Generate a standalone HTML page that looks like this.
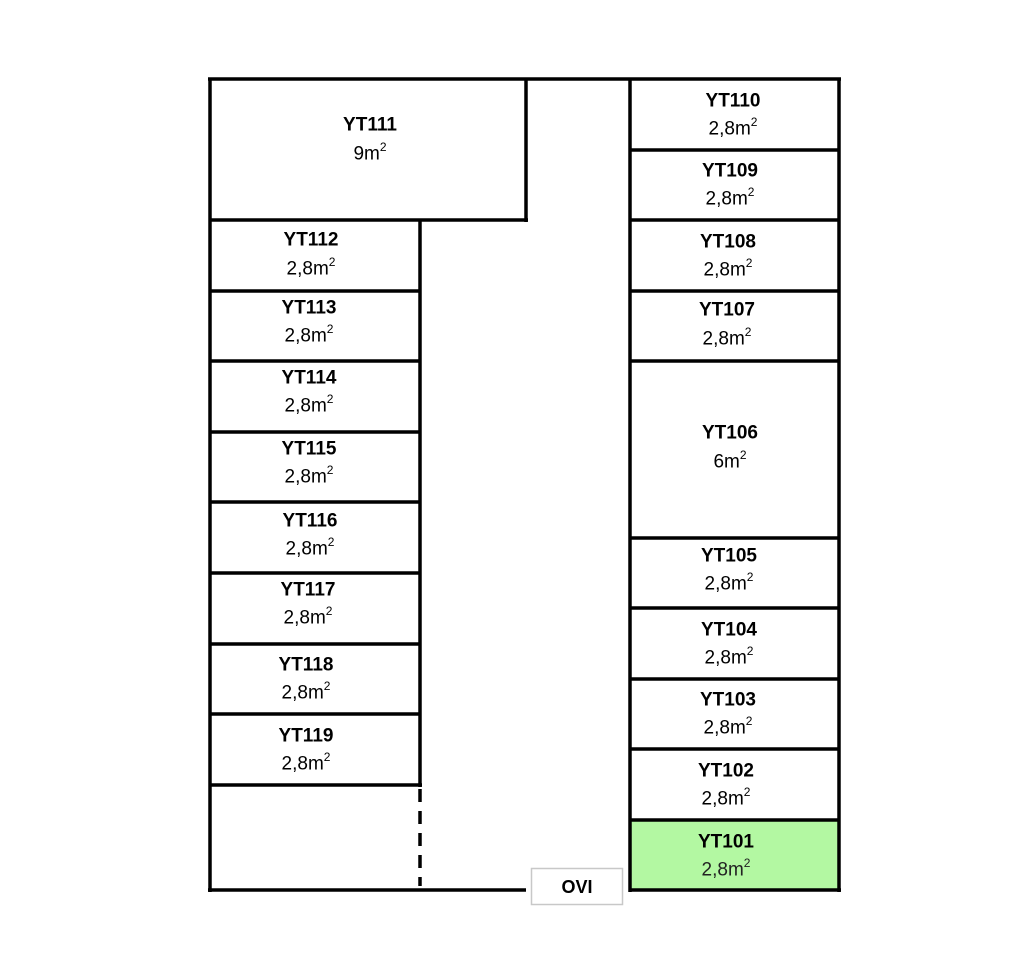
<!DOCTYPE html>
<html><head><meta charset="utf-8"><style>
html,body{margin:0;padding:0;background:#fff;}
svg{display:block;}
text{font-family:"Liberation Sans",sans-serif;fill:#000;}
.l{font-weight:bold;font-size:19px;}
.a{font-size:19px;}
</style></head><body>
<svg width="1025" height="963" viewBox="0 0 1025 963" xmlns="http://www.w3.org/2000/svg">
<rect x="630" y="820" width="209" height="70" fill="#b3f8a2"/>
<g stroke="#000" stroke-width="3.5" fill="none">
<line x1="208" y1="79" x2="841" y2="79"/>
<line x1="210" y1="79" x2="210" y2="892"/>
<line x1="208" y1="890" x2="526" y2="890"/>
<line x1="526" y1="79" x2="526" y2="222"/>
<line x1="210" y1="220" x2="528" y2="220"/>
<line x1="420" y1="220" x2="420" y2="787"/>
<line x1="210" y1="291" x2="420" y2="291"/>
<line x1="210" y1="361" x2="420" y2="361"/>
<line x1="210" y1="432" x2="420" y2="432"/>
<line x1="210" y1="502" x2="420" y2="502"/>
<line x1="210" y1="573" x2="420" y2="573"/>
<line x1="210" y1="644" x2="420" y2="644"/>
<line x1="210" y1="714" x2="420" y2="714"/>
<line x1="210" y1="785" x2="422" y2="785"/>
<line x1="420" y1="789" x2="420" y2="886" stroke-dasharray="13,9"/>
<line x1="630" y1="79" x2="630" y2="892"/>
<line x1="839" y1="79" x2="839" y2="892"/>
<line x1="630" y1="890" x2="841" y2="890"/>
<line x1="630" y1="150" x2="839" y2="150"/>
<line x1="630" y1="220" x2="839" y2="220"/>
<line x1="630" y1="291" x2="839" y2="291"/>
<line x1="630" y1="361" x2="839" y2="361"/>
<line x1="630" y1="538" x2="839" y2="538"/>
<line x1="630" y1="608" x2="839" y2="608"/>
<line x1="630" y1="679" x2="839" y2="679"/>
<line x1="630" y1="749" x2="839" y2="749"/>
<line x1="630" y1="820" x2="839" y2="820"/>
</g>
<rect x="531.5" y="868.5" width="91" height="36" fill="#fff" stroke="#c8c8c8" stroke-width="1.5"/>
<text x="577" y="887" class="l" text-anchor="middle" dominant-baseline="central" style="font-size:18px">OVI</text>
<g text-anchor="middle" dominant-baseline="central">
<text class="l" x="733" y="101">YT110</text><text class="a" x="733" y="129">2,8m<tspan font-size="12" dy="-7">2</tspan></text>
<text class="l" x="730" y="171">YT109</text><text class="a" x="730" y="199">2,8m<tspan font-size="12" dy="-7">2</tspan></text>
<text class="l" x="728" y="242">YT108</text><text class="a" x="728" y="270">2,8m<tspan font-size="12" dy="-7">2</tspan></text>
<text class="l" x="727" y="310">YT107</text><text class="a" x="727" y="339">2,8m<tspan font-size="12" dy="-7">2</tspan></text>
<text class="l" x="730" y="433">YT106</text><text class="a" x="730" y="462">6m<tspan font-size="12" dy="-7">2</tspan></text>
<text class="l" x="729" y="556">YT105</text><text class="a" x="729" y="584">2,8m<tspan font-size="12" dy="-7">2</tspan></text>
<text class="l" x="729" y="630">YT104</text><text class="a" x="729" y="658">2,8m<tspan font-size="12" dy="-7">2</tspan></text>
<text class="l" x="728" y="700">YT103</text><text class="a" x="728" y="728">2,8m<tspan font-size="12" dy="-7">2</tspan></text>
<text class="l" x="726" y="771">YT102</text><text class="a" x="726" y="799">2,8m<tspan font-size="12" dy="-7">2</tspan></text>
<text class="l" x="726" y="842">YT101</text><text class="a" x="726" y="870" style="fill:#222">2,8m<tspan font-size="12" dy="-7">2</tspan></text>
<text class="l" x="370" y="125">YT111</text><text class="a" x="370" y="154">9m<tspan font-size="12" dy="-7">2</tspan></text>
<text class="l" x="311" y="240">YT112</text><text class="a" x="311" y="269">2,8m<tspan font-size="12" dy="-7">2</tspan></text>
<text class="l" x="309" y="308">YT113</text><text class="a" x="309" y="336">2,8m<tspan font-size="12" dy="-7">2</tspan></text>
<text class="l" x="309" y="378">YT114</text><text class="a" x="309" y="406">2,8m<tspan font-size="12" dy="-7">2</tspan></text>
<text class="l" x="309" y="449">YT115</text><text class="a" x="309" y="477">2,8m<tspan font-size="12" dy="-7">2</tspan></text>
<text class="l" x="310" y="521">YT116</text><text class="a" x="310" y="549">2,8m<tspan font-size="12" dy="-7">2</tspan></text>
<text class="l" x="308" y="590">YT117</text><text class="a" x="308" y="618">2,8m<tspan font-size="12" dy="-7">2</tspan></text>
<text class="l" x="306" y="665">YT118</text><text class="a" x="306" y="693">2,8m<tspan font-size="12" dy="-7">2</tspan></text>
<text class="l" x="306" y="736">YT119</text><text class="a" x="306" y="764">2,8m<tspan font-size="12" dy="-7">2</tspan></text>
</g>
</svg>
</body></html>
